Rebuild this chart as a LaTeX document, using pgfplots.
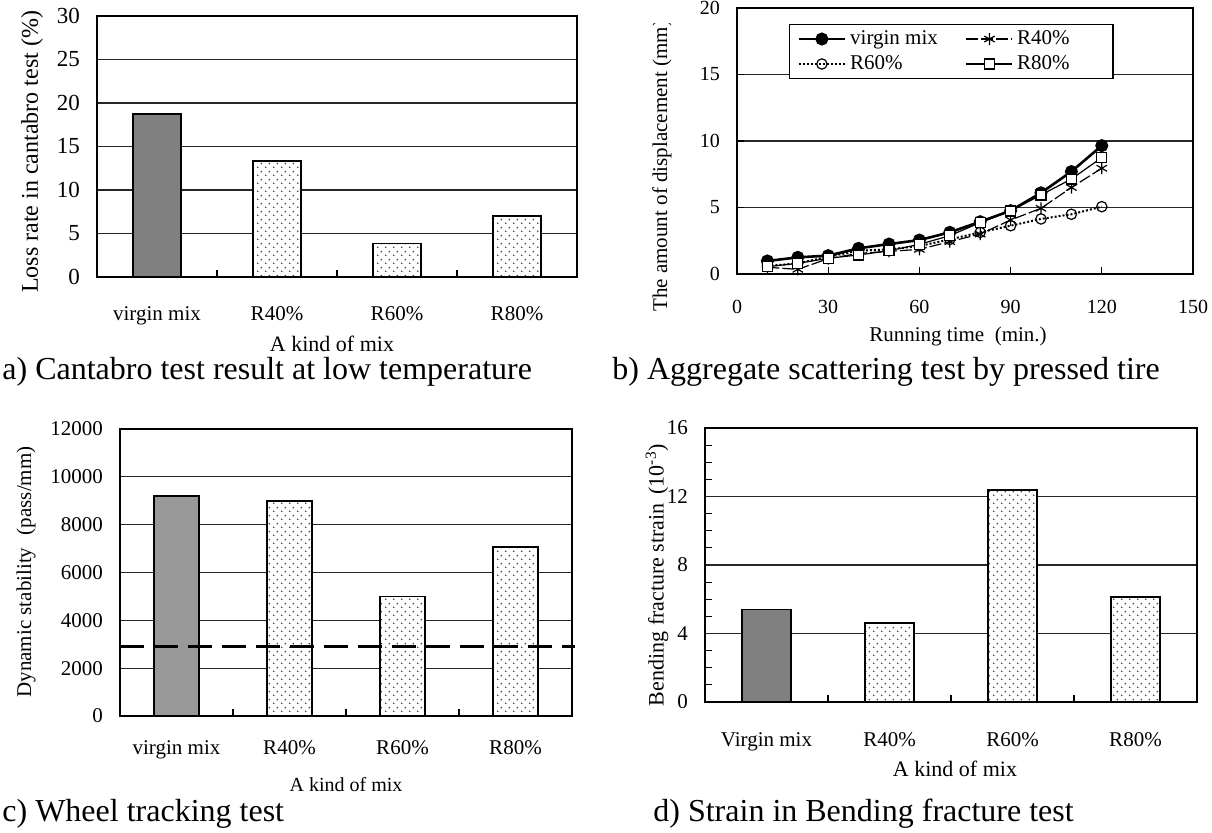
\documentclass[border=0pt]{standalone}
\usepackage{fontspec}
\setmainfont{Liberation Serif}
\usepackage{pgfplots}
\pgfplotsset{compat=1.18}
\usetikzlibrary{patterns}

\pgfdeclarepatternformonly{mydots}{\pgfqpoint{0pt}{0pt}}{\pgfqpoint{4pt}{4pt}}{\pgfqpoint{4pt}{4pt}}{%
  \pgfpathcircle{\pgfqpoint{1pt}{1pt}}{0.5pt}%
  \pgfpathcircle{\pgfqpoint{3pt}{3pt}}{0.5pt}%
  \pgfusepath{fill}}

\newcommand{\fs}[1]{\fontsize{#1}{#1}\selectfont}

\pgfplotsset{
  common/.style={
    scale only axis, anchor=south west,
    /pgf/number format/assume math mode=true,
    /pgf/number format/1000 sep={},
    scaled ticks=false,
    tick pos=left,
    major grid style={line width=0.6pt, black!85},
    tick style={black, line width=0.6pt},
  },
  catax/.style={
    xmin=-0.5, xmax=3.5, xtick={0,1,2,3},
    minor xtick={0.5,1.5,2.5},
    major tick length=0pt, minor tick length=3.5pt,
    ymajorgrids,
  },
  virginbar/.style={ybar, bar width=0.4, bar shift=0pt, fill=#1, draw=black, line width=0.9pt},
  dotbar/.style={ybar, bar width=0.4, bar shift=0pt, fill=white, draw=black, line width=0.9pt,
     postaction={pattern=mydots, pattern color=black!75}},
}

\begin{document}
\begin{tikzpicture}[x=0.5pt, y=0.5pt]

% ---------------- a) ----------------
\begin{axis}[common, catax,
  at={(48.5pt,278pt)}, width=240pt, height=130.5pt,
  ymin=0, ymax=30, ytick={0,5,...,30},
  xticklabels={virgin mix,R40\%,R60\%,R80\%},
  axis line style={line width=1.4pt},
  xticklabel style={font=\fs{10.5}, anchor=base, yshift=-22pt},
  yticklabel style={font=\fs{11.5}, xshift=-5pt},
]
\addplot[virginbar=black!50] coordinates {(0,18.7)};
\addplot[dotbar] coordinates {(1,13.3) (2,3.85) (3,7.0)};
\end{axis}
\node[rotate=90, font=\fs{12}] at (32,681) {Loss rate in cantabro test (\%)};
\node[anchor=base, font=\fs{11}] at (332,481) {A kind of mix};
\node[anchor=base west, inner sep=0pt, font=\fs{16}] at (2,453) {a) Cantabro test result at low temperature};

% ---------------- b) ----------------
\begin{axis}[common,
  at={(368.5pt,279.5pt)}, width=228pt, height=133pt,
  xmin=0, xmax=150, ymin=0, ymax=20,
  xtick={0,30,...,150}, ytick={0,5,...,20}, ymajorgrids,
  major tick length=3.5pt,
  axis line style={line width=1pt},
  xticklabel style={font=\fs{10}, anchor=base, yshift=-20pt},
  yticklabel style={font=\fs{10}, xshift=-5pt},
  legend style={at={(0.114,0.94)}, anchor=north west, legend columns=2,
    font=\fs{10.5}, draw=black, line width=0.6pt, fill=white,
    inner xsep=4pt, inner ysep=1pt,
    /tikz/every even column/.append style={column sep=12pt}},
  legend cell align=left,
  legend image code/.code={\draw[mark repeat=2,mark phase=2,#1] plot coordinates {(0pt,0pt) (11.5pt,0pt) (23pt,0pt)};},
]
\addplot[black, line width=1.3pt, mark=*, mark size=2.6pt, mark options={solid, fill=black}]
  coordinates {(10,0.98) (20,1.25) (30,1.38) (40,1.93) (50,2.25) (60,2.55) (70,3.13) (80,3.93) (90,4.76) (100,6.1) (110,7.7) (120,9.65)};
\addlegendentry{virgin mix}
\addplot[black, line width=0.6pt, dash pattern=on 6pt off 1.5pt, mark=asterisk, mark size=3pt, mark options={solid, line width=0.6pt}]
  coordinates {(10,0.5) (20,0.35) (30,1.15) (40,1.55) (50,1.7) (60,1.85) (70,2.43) (80,3.0) (90,4.06) (100,4.94) (110,6.5) (120,7.95)};
\addlegendentry{\makebox[42pt][l]{R40\%}}
\addplot[black, line width=1pt, densely dotted, mark=o, mark size=2.6pt, mark options={solid, fill=white, line width=0.6pt}]
  coordinates {(10,0.6) (20,0.8) (30,1.3) (40,1.75) (50,1.85) (60,2.1) (70,2.6) (80,3.13) (90,3.63) (100,4.14) (110,4.49) (120,5.06)};
\addlegendentry{R60\%}
\addplot[black, line width=0.6pt, mark=square*, mark size=2.5pt, mark options={solid, fill=white, line width=0.6pt}]
  coordinates {(10,0.55) (20,0.8) (30,1.18) (40,1.43) (50,1.75) (60,2.23) (70,2.88) (80,3.86) (90,4.74) (100,5.94) (110,7.14) (120,8.75)};
\addlegendentry{\makebox[42pt][l]{R80\%}}
\end{axis}
\begin{scope}
\clip (600,809) rectangle (730,503);
\node[rotate=90, anchor=west, inner sep=0pt, font=\fs{10.5}] at (662,521) {The amount of displacement (mm)};
\end{scope}
\node[anchor=base, font=\fs{10.5}] at (958,491) {Running time\hspace{0.5em}(min.)};
\node[anchor=base west, inner sep=0pt, font=\fs{16}] at (612,453) {b) Aggregate scattering test by pressed tire};

% ---------------- c) ----------------
\begin{axis}[common, catax,
  at={(60pt,58.5pt)}, width=226pt, height=143.5pt,
  ymin=0, ymax=12000, ytick={0,2000,...,12000},
  xticklabels={virgin mix,R40\%,R60\%,R80\%},
  axis line style={line width=1.2pt},
  clip=false,
  xticklabel style={font=\fs{10.5}, anchor=base, yshift=-19.5pt},
  yticklabel style={font=\fs{10.5}, xshift=-5pt},
]
\addplot[virginbar=black!40] coordinates {(0,9200)};
\addplot[dotbar] coordinates {(1,9000) (2,5000) (3,7070)};
\addplot[black, line width=1.4pt, dash pattern=on 12pt off 5pt] coordinates {(-0.5,2900) (3.53,2900)};
\end{axis}
\node[rotate=90, font=\fs{10.5}] at (26,261) {Dynamic stability\hspace{0.6em}(pass/mm)};
\node[anchor=base, font=\fs{10}] at (346,41) {A kind of mix};
\node[anchor=base west, inner sep=0pt, font=\fs{16}] at (2,11) {c) Wheel tracking test};

% ---------------- d) ----------------
\begin{axis}[common, catax,
  at={(352.5pt,65.5pt)}, width=246pt, height=137pt,
  ymin=0, ymax=16, ytick={0,4,...,16}, minor y tick num=3,
  xticklabels={Virgin mix,R40\%,R60\%,R80\%},
  axis line style={line width=1.2pt},
  xticklabel style={font=\fs{10.5}, anchor=base, yshift=-22.5pt},
  yticklabel style={font=\fs{10.5}, xshift=-5pt},
]
\addplot[virginbar=black!50] coordinates {(0,5.4)};
\addplot[dotbar] coordinates {(1,4.6) (2,12.4) (3,6.15)};
\end{axis}
\node[rotate=90, font=\fs{11}] at (657,258) {Bending fracture strain\hspace{0.4em}(10\textsuperscript{-3})};
\node[anchor=base, font=\fs{11}] at (955,56) {A kind of mix};
\node[anchor=base west, inner sep=0pt, font=\fs{16}] at (653,11) {d) Strain in Bending fracture test};

\pgfresetboundingbox
\useasboundingbox (0,0) rectangle (1212,833);
\end{tikzpicture}
\end{document}
